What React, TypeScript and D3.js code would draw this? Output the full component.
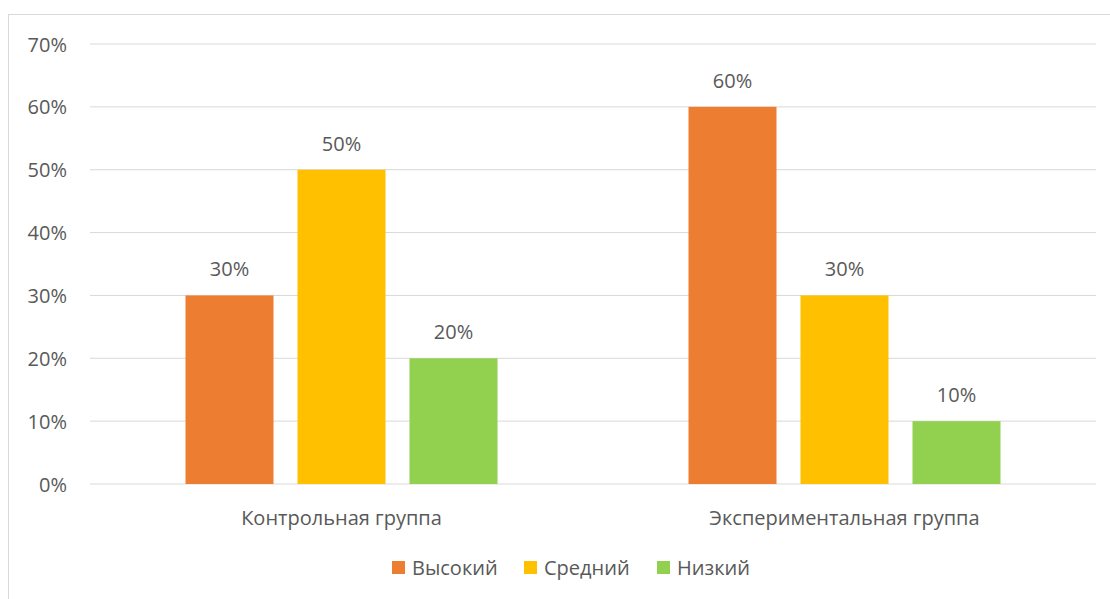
import React from "react";
import * as d3 from "d3";

const categories = ["Контрольная группа", "Экспериментальная группа"];
const seriesNames = ["Высокий", "Средний", "Низкий"];
const seriesColors = ["#ED7D31", "#FFC000", "#92D050"];
const high = [30, 60];
const medium = [50, 30];
const low = [20, 10];
const yTicks = [0, 10, 20, 30, 40, 50, 60, 70];

const W = 1110;
const H = 599;
const FONT = "'Open Sans', sans-serif";
const TEXT = "#595959";

export default function App() {
  const values = [high, medium, low];
  const x0 = d3.scaleBand<string>().domain(categories).range([90, 1096]).paddingInner(0).paddingOuter(0);
  const groupWidth = 312;
  const x1 = d3
    .scaleBand<string>()
    .domain(seriesNames)
    .range([0, groupWidth])
    .paddingInner(24 / 112)
    .paddingOuter(0);
  const y = d3.scaleLinear().domain([0, 70]).range([484, 44]);

  return (
    <div style={{ position: "absolute", left: 0, top: 0, width: W, height: H, overflow: "hidden", background: "#fff" }}>
      <svg width={W} height={H} style={{ display: "block" }}>
        <rect x={8.5} y={14.5} width={W + 10} height={H + 10} fill="#fff" stroke="#d9d9d9" strokeWidth={1} />
        {yTicks.map((t) => (
          <g key={t}>
            <line x1={90} x2={1096} y1={y(t)} y2={y(t)} stroke="#d9d9d9" strokeWidth={1} />
            <text x={67} y={y(t) + 7.5} textAnchor="end" fontFamily={FONT} fontSize={20} fill={TEXT}>
              {t}%
            </text>
          </g>
        ))}
        {categories.map((c, ci) => {
          const gx = (x0(c) as number) + (x0.bandwidth() - groupWidth) / 2;
          return (
            <g key={c}>
              {seriesNames.map((s, si) => {
                const v = values[si][ci];
                const bx = gx + (x1(s) as number);
                return (
                  <g key={s}>
                    <rect x={bx} y={y(v)} width={x1.bandwidth()} height={y(0) - y(v)} fill={seriesColors[si]} />
                    <text
                      x={bx + x1.bandwidth() / 2}
                      y={y(v) - 19}
                      textAnchor="middle"
                      fontFamily={FONT}
                      fontSize={20}
                      fill={TEXT}
                    >
                      {v}%
                    </text>
                  </g>
                );
              })}
              <text
                x={(x0(c) as number) + x0.bandwidth() / 2}
                y={525}
                textAnchor="middle"
                fontFamily={FONT}
                fontSize={20}
                fill={TEXT}
              >
                {c}
              </text>
            </g>
          );
        })}
        {seriesNames.map((s, i) => {
          const lx = [392, 524, 657][i];
          return (
            <g key={s}>
              <rect x={lx} y={561} width={13} height={13} fill={seriesColors[i]} />
              <text x={lx + 20} y={575} fontFamily={FONT} fontSize={20} fill={TEXT}>
                {s}
              </text>
            </g>
          );
        })}
      </svg>
    </div>
  );
}
